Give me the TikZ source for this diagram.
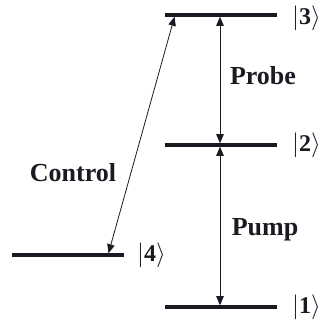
\documentclass[tikz,border=0pt]{standalone}
\usepackage{fontspec}
\setmainfont{Liberation Serif}
\usetikzlibrary{arrows.meta}
\definecolor{ink}{HTML}{1A1A22}
\begin{document}
\begin{tikzpicture}[x=1pt,y=-1pt,
  level/.style={line width=3.6pt, draw=ink},
  trans/.style={draw=ink, line width=0.8pt,
    {Triangle[length=9pt,width=7.5pt]}-{Triangle[length=9pt,width=7.5pt]},
    shorten <=1.8pt, shorten >=1.8pt},
  lbl/.style={text=ink, font=\bfseries\fontsize{26}{29}\selectfont},
  ket/.style={text=ink, font=\fontsize{24}{27}\selectfont, anchor=west, inner sep=0pt}]
\useasboundingbox (0,0) rectangle (324,329);
% levels
\coordinate (l3a) at (165,15);  \coordinate (l3b) at (277,15);
\coordinate (l2a) at (165,145); \coordinate (l2b) at (277,145);
\coordinate (l1a) at (165,307); \coordinate (l1b) at (277,307);
\coordinate (l4a) at (12,255);  \coordinate (l4b) at (124,255);
\draw[level] (l3a) -- (l3b);
\draw[level] (l2a) -- (l2b);
\draw[level] (l1a) -- (l1b);
\draw[level] (l4a) -- (l4b);
% kets
\node[ket] (k3) at (292,18) {$|\mathbf{3}\rangle$};
\node[ket] (k2) at (292,145) {$|\mathbf{2}\rangle$};
\node[ket] (k1) at (292,307) {$|\mathbf{1}\rangle$};
\node[ket] (k4) at (137,255) {$|\mathbf{4}\rangle$};
% transitions
\coordinate (p3) at (220,15);
\coordinate (p2) at (220,145);
\coordinate (p1) at (220,307);
\coordinate (c3) at (175,15);
\coordinate (c4) at (108,255);
\draw[trans] (p3) -- (p2);
\draw[trans] (p2) -- (p1);
\draw[trans] (c3) -- (c4);
% labels
\node[lbl] (probe) at (263,76) {Probe};
\node[lbl] (pump) at (265,230) {Pump};
\node[lbl] (control) at (73,173) {Control};
\end{tikzpicture}
\end{document}
